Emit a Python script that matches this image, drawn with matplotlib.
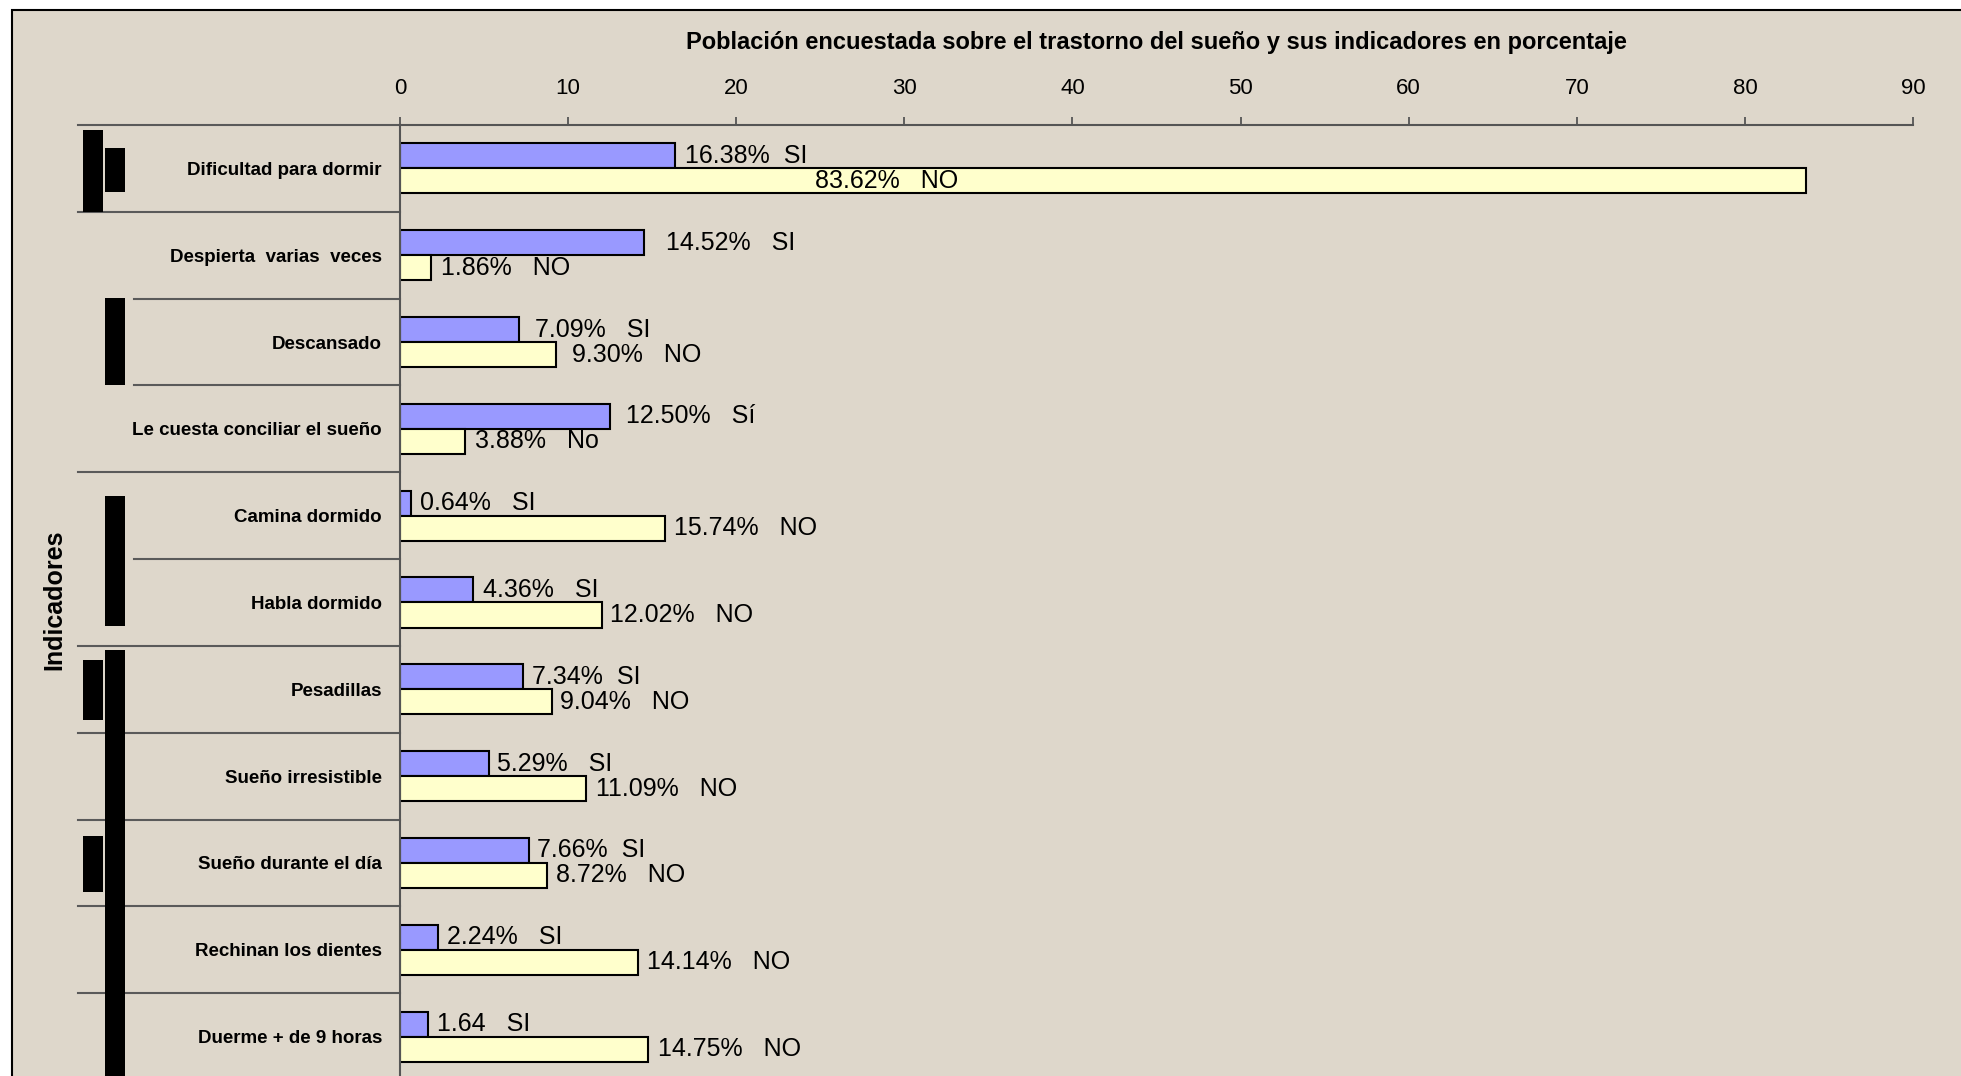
import matplotlib
matplotlib.use("Agg")
import matplotlib.pyplot as plt
import numpy as np
from matplotlib.patches import Rectangle
from matplotlib.transforms import blended_transform_factory

plt.rcParams['font.family'] = ['Liberation Sans', 'DejaVu Sans']

# --- data ---
categories = [
    "Dificultad para dormir",
    "Despierta  varias  veces",
    "Descansado",
    "Le cuesta conciliar el sueño",
    "Camina dormido",
    "Habla dormido",
    "Pesadillas",
    "Sueño irresistible",
    "Sueño durante el día",
    "Rechinan los dientes",
    "Duerme + de 9 horas",
]
si_values = [16.38, 14.52, 7.09, 12.50, 0.64, 4.36, 7.34, 5.29, 7.66, 2.24, 1.64]
no_values = [83.62, 1.86, 9.30, 3.88, 15.74, 12.02, 9.04, 11.09, 8.72, 14.14, 14.75]
si_labels = ["16.38%  SI", "14.52%   SI", "7.09%   SI", "12.50%   Sí", "0.64%   SI",
             "4.36%   SI", "7.34%  SI", "5.29%   SI", "7.66%  SI", "2.24%   SI", "1.64   SI"]
no_labels = ["83.62%   NO", "1.86%   NO", "9.30%   NO", "3.88%   No", "15.74%   NO",
             "12.02%   NO", "9.04%   NO", "11.09%   NO", "8.72%   NO", "14.14%   NO", "14.75%   NO"]
x_ticks = [0, 10, 20, 30, 40, 50, 60, 70, 80, 90]
title = "Población encuestada sobre el trastorno del sueño y sus indicadores en porcentaje"

# label nudges (points to the right of bar end), as placed in the original
si_offsets = [7, 16, 11.5, 11.5, 7, 7, 6, 6, 6, 7, 7]
no_offsets = [None, 7, 11.5, 7, 7, 6, 6, 7, 7, 7, 7]

W, H = 1961, 1076
fig = plt.figure(figsize=(W / 100, H / 100), dpi=100)
fig.patch.set_facecolor('white')

# beige panel with black frame, running off the right and bottom edges
fig.add_artist(Rectangle((12 / W, -0.1), 1.2, 1.1 - 10 / H, transform=fig.transFigure,
                         facecolor='#ded7cb', edgecolor='black', linewidth=1.5, zorder=0))

ax = fig.add_axes([400 / W, 1 - 1080 / H, 1513 / W, (1080 - 125) / H])
ax.set_facecolor('none')

y = np.arange(len(categories))
h = 0.288
ax.barh(y - h, si_values, height=h, align='edge', color='#9999ff', edgecolor='black', linewidth=1.5)
ax.barh(y, no_values, height=h, align='edge', color='#ffffcc', edgecolor='black', linewidth=1.5)

for i in range(len(categories)):
    ax.annotate(si_labels[i], xy=(si_values[i], i - h / 2), xytext=(si_offsets[i], 0),
                textcoords='offset points', ha='left', va='center', fontsize=18)
    if no_offsets[i] is None:
        ax.text(24.7, i + h / 2, no_labels[i], ha='left', va='center', fontsize=18)
    else:
        ax.annotate(no_labels[i], xy=(no_values[i], i + h / 2), xytext=(no_offsets[i], 0),
                    textcoords='offset points', ha='left', va='center', fontsize=18)

ax.set_xlim(0, 90)
ax.set_ylim(len(categories) - 0.5, -0.5)
ax.xaxis.tick_top()
ax.set_xticks(x_ticks)
ax.tick_params(axis='x', direction='out', length=6, width=1.3, color='#555555',
               labelsize=16, pad=13)
ax.set_yticks(y)
ax.set_yticklabels(categories, fontsize=13.5, fontweight='bold')
ax.tick_params(axis='y', length=0, pad=13)
for side in ['right', 'bottom']:
    ax.spines[side].set_visible(False)
for side in ['top', 'left']:
    ax.spines[side].set_color('#555555')
    ax.spines[side].set_linewidth(1.5)

# category separators and the black group markers on the left
trans = blended_transform_factory(fig.transFigure, ax.transData)
sep_starts = [78, 78, 134, 134, 78, 134, 78, 78, 78, 78, 78]
for k, x0 in enumerate(sep_starts):
    b = k - 0.5
    ax.plot([x0 / W, 400 / W], [b, b], transform=trans, clip_on=False,
            color='#5a5a5a', linewidth=1.5)

markers = [
    (83, 103, -0.44, 0.5),
    (105, 125, -0.235, 0.27),
    (105, 125, 1.49, 2.5),
    (105, 125, 3.77, 5.27),
    (105, 125, 5.55, 11.0),
    (83, 103, 5.66, 6.35),
    (83, 103, 7.69, 8.34),
]
for x0, x1, y0, y1 in markers:
    ax.add_patch(Rectangle((x0 / W, y0), (x1 - x0) / W, y1 - y0, transform=trans,
                           clip_on=False, facecolor='black', edgecolor='none', zorder=5))

fig.text(54 / W, 1 - 600 / H, "Indicadores", rotation=90, ha='center', va='center',
         fontsize=18, fontweight='bold')
fig.text(1156 / W, 1 - 43 / H, title, ha='center', va='center', fontsize=17, fontweight='bold')

fig.savefig("out.png", dpi=100)
